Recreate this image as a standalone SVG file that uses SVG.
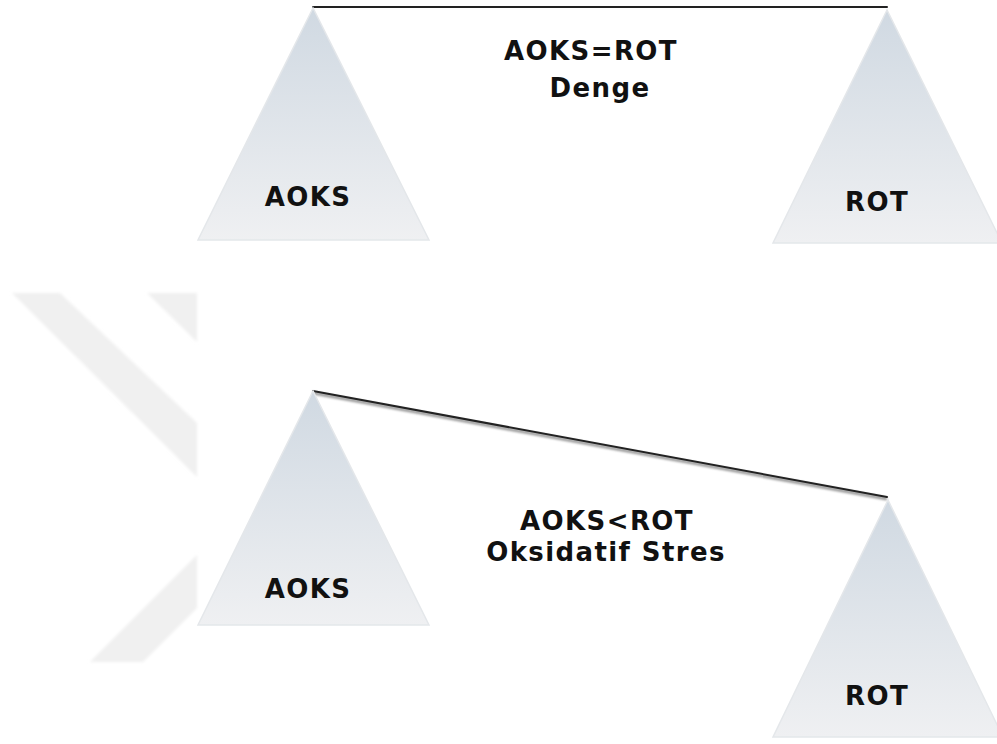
<svg xmlns="http://www.w3.org/2000/svg" width="997" height="744" viewBox="0 0 997 744">
  <defs>
    <linearGradient id="triFill" x1="0" y1="0" x2="0" y2="1">
      <stop offset="0" stop-color="#d0d9e2"/>
      <stop offset="1" stop-color="#eff0f2"/>
    </linearGradient>
    <filter id="blur1" x="-5%" y="-50%" width="110%" height="200%">
      <feGaussianBlur stdDeviation="0.9"/>
    </filter>
    <filter id="wmBlur" x="-10%" y="-10%" width="120%" height="120%">
      <feGaussianBlur stdDeviation="1.5"/>
    </filter>
  </defs>
  <style>
    .tri { fill: url(#triFill); stroke: #e4e7ea; stroke-width: 1.5; }
    .base { stroke: #7f7f7f; stroke-width: 2.5; filter: url(#blur1); }
    .bar { stroke: #222; stroke-width: 2; fill: none; stroke-linecap: round; }
    .barShadow { stroke: #999; stroke-width: 3; fill: none; filter: url(#blur1); }
    .lbl { font-family: "DejaVu Sans", "Liberation Sans", sans-serif; font-weight: bold; font-size: 26px; letter-spacing: 1.4px; fill: #111; text-anchor: middle; }
    .wm { fill: #f0f0f0; filter: url(#wmBlur); }
  </style>
  <rect width="997" height="744" fill="#ffffff"/>

  <g id="watermark">
    <polygon class="wm" points="12,293 60,293 197,423 197,477"/>
    <polygon class="wm" points="147,293 197,293 197,342"/>
    <polygon class="wm" points="90,662 143,662 197,608 197,555"/>
  </g>

  <g id="connectors">
    <line class="barShadow" x1="313" y1="9" x2="887" y2="9"/>
    <line class="bar" x1="313" y1="7" x2="887" y2="7"/>
    <line class="barShadow" x1="313" y1="393" x2="887" y2="499"/>
    <line class="bar" x1="313" y1="391" x2="887" y2="497"/>
  </g>

  <g id="top-aoks">
    <line class="base" x1="198" y1="242" x2="429" y2="242"/>
    <polygon class="tri" points="313,8 198,240 429,240"/>
    <text class="lbl" x="308" y="206">AOKS</text>
  </g>
  <g id="top-rot">
    <line class="base" x1="773" y1="245" x2="997" y2="245"/>
    <polygon class="tri" points="887,10 773,243 1002,243"/>
    <text class="lbl" x="877" y="211">ROT</text>
  </g>
  <g id="top-label">
    <text class="lbl" x="591" y="60">AOKS=ROT</text>
    <text class="lbl" x="600" y="97">Denge</text>
  </g>

  <g id="bottom-aoks">
    <line class="base" x1="198" y1="627" x2="429" y2="627"/>
    <polygon class="tri" points="313,391 198,625 429,625"/>
    <text class="lbl" x="308" y="598">AOKS</text>
  </g>
  <g id="bottom-rot">
    <line class="base" x1="773" y1="739" x2="997" y2="739"/>
    <polygon class="tri" points="888,500 773,737 1003,737"/>
    <text class="lbl" x="877" y="705">ROT</text>
  </g>
  <g id="bottom-label">
    <text class="lbl" x="607" y="530">AOKS&lt;ROT</text>
    <text class="lbl" x="606" y="561">Oksidatif Stres</text>
  </g>
</svg>
